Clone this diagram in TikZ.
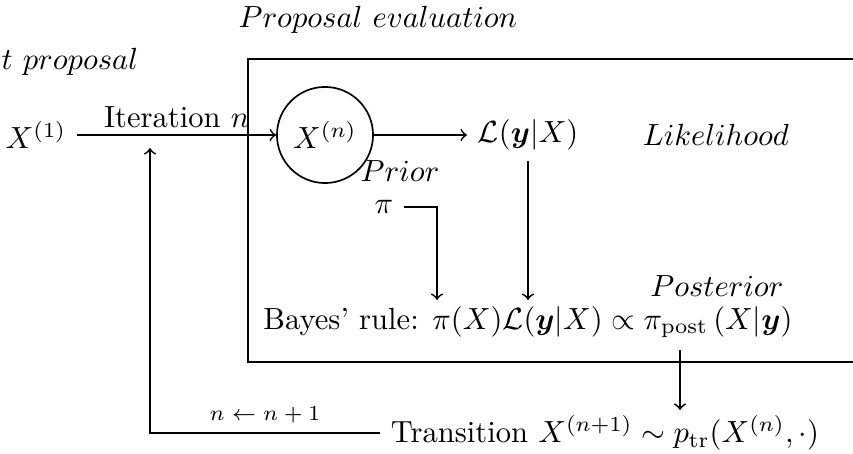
\documentclass[tikz,border=0pt]{standalone}
\usepackage{amsmath,amssymb,bm}
\begin{document}
\begin{tikzpicture}[x=0.3268pt,y=-0.3268pt,
  conn/.style={->,line width=0.55pt},
  plain/.style={line width=0.55pt},
  lbl/.style={inner sep=0pt}]
\useasboundingbox (0,0) rectangle (853,454);
\clip (0,0) rectangle (853,454);
% titles
\node[lbl] (title) at (378,20) {$Proposal~evaluation$};
\node[lbl,anchor=west] (init) at (1,62) {$t~proposal$};
% frame
\draw[plain] (248,59) rectangle (900,362);
% nodes
\node (x1) at (36,135) {$X^{(1)}$};
\node[circle,draw,line width=0.55pt,minimum size=31.4pt,inner sep=0pt] (xn) at (325,135) {$X^{(n)}$};
\node (L) at (528,135) {$\mathcal{L}(\bm{y}|X)$};
\node[lbl] (lik) at (716,135) {$Likelihood$};
\node[lbl] (prior) at (400,171) {$Prior$};
\node (pi) at (384,207) {$\pi$};
\node (bayes) at (528,322) {Bayes' rule: $\pi(X)\mathcal{L}(\bm{y}|X) \propto \pi_{\mathrm{post}}\left(X|\bm{y}\right)$};
\node[lbl] (post) at (717,286) {$Posterior$};
\node (trans) at (605,433) {Transition $X^{(n+1)}\sim p_{\mathrm{tr}}(X^{(n)},\cdot)$};
% helper coordinates
\coordinate (piin) at (437,300);
\coordinate (lin) at (528,300);
\coordinate (pout) at (680,350);
\coordinate (pin) at (680,410);
\coordinate (c1) at (150,437);
\coordinate (c2) at (150,148);
% connectors
\draw[conn] (x1) -- node[above,inner sep=2pt] {Iteration $n$} (xn);
\draw[conn] (xn) -- (L);
\draw[conn] (L) -- (L |- lin);
\draw[conn] (pi) -| (piin);
\draw[conn] (pout) -- (pin);
\draw[conn] (trans.west) -- node[above,inner sep=3pt] {\scriptsize $n\leftarrow n+1$} (trans.west -| c1) -- (c2);
\end{tikzpicture}
\end{document}
